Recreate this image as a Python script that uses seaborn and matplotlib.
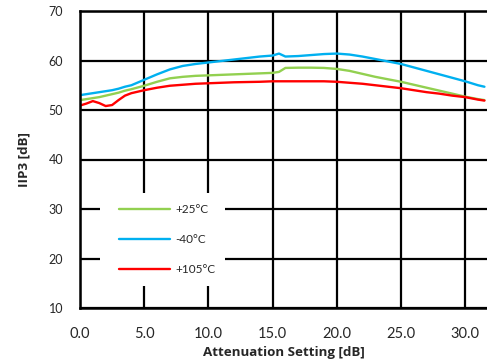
import matplotlib
matplotlib.use("Agg")
import matplotlib.pyplot as plt
from matplotlib.patches import Rectangle
import seaborn as sns
import pandas as pd

# Attenuation setting (dB) and IIP3 (dB) per temperature
atten = [0, 0.5, 1, 1.5, 2, 2.5, 3, 3.5, 4, 5, 6, 7, 8, 9, 10, 11, 12, 13, 14,
         15, 15.5, 16, 17, 18, 19, 20, 21, 22, 23, 24, 25, 26, 27, 28, 29, 30, 31, 31.5]
iip3_m40 = [53.0, 53.2, 53.4, 53.6, 53.8, 54.0, 54.3, 54.7, 55.0, 56.1, 57.2, 58.2, 58.9,
            59.3, 59.6, 59.9, 60.2, 60.5, 60.8, 61.0, 61.4, 60.8, 60.9, 61.1, 61.3, 61.4,
            61.2, 60.8, 60.3, 59.8, 59.3, 58.6, 57.9, 57.2, 56.5, 55.8, 55.0, 54.7]
iip3_p25 = [52.0, 52.2, 52.4, 52.6, 52.9, 53.2, 53.5, 53.9, 54.2, 54.9, 55.7, 56.4, 56.7,
            56.9, 57.0, 57.1, 57.2, 57.3, 57.4, 57.5, 57.7, 58.5, 58.55, 58.55, 58.5, 58.3,
            57.9, 57.3, 56.7, 56.2, 55.7, 55.1, 54.5, 53.9, 53.3, 52.7, 52.2, 52.0]
iip3_p105 = [50.9, 51.3, 51.8, 51.4, 50.8, 51.0, 52.0, 52.9, 53.4, 54.0, 54.5, 54.9, 55.1,
             55.3, 55.4, 55.5, 55.6, 55.65, 55.7, 55.8, 55.8, 55.8, 55.8, 55.8, 55.8, 55.7,
             55.5, 55.3, 55.0, 54.7, 54.4, 54.0, 53.6, 53.3, 52.9, 52.6, 52.1, 51.9]

labels = ["+25°C", "-40°C", "+105°C"]
colors = ["#92D050", "#00B0F0", "#FF0000"]

df = pd.concat([
    pd.DataFrame({"atten": atten, "iip3": iip3_p25, "temp": labels[0]}),
    pd.DataFrame({"atten": atten, "iip3": iip3_m40, "temp": labels[1]}),
    pd.DataFrame({"atten": atten, "iip3": iip3_p105, "temp": labels[2]}),
])

sns.set_style("white")
plt.rcParams["font.family"] = ["Lato", "DejaVu Sans"]

W, H = 487, 362
fig = plt.figure(figsize=(W / 100, H / 100), dpi=100)
ax = fig.add_axes([80 / W, (H - 308) / H, (W - 80) / W, 297 / H])

sns.lineplot(data=df, x="atten", y="iip3", hue="temp", hue_order=labels,
             palette=colors, linewidth=1.7, ax=ax, legend=True)

ax.set_xlim(0, 31.7)
ax.set_ylim(10, 70)
ax.set_xticks([0, 5, 10, 15, 20, 25, 30])
ax.set_xticklabels([f"{v:.1f}" for v in [0, 5, 10, 15, 20, 25, 30]], fontsize=10.5)
ax.set_yticks(range(10, 71, 10))
ax.set_yticklabels([str(v) for v in range(10, 71, 10)], fontsize=9)
ax.tick_params(axis="x", length=0, pad=14)
ax.tick_params(axis="y", length=0, pad=12)
ax.grid(True, color="black", linewidth=1.6)
ax.set_axisbelow(True)

for side in ["left", "bottom", "top"]:
    ax.spines[side].set_color("black")
    ax.spines[side].set_linewidth(1.8)
ax.spines["right"].set_visible(False)

label_font = {"family": ["Open Sans", "DejaVu Sans"], "size": 9.6, "weight": "bold"}
ax.set_xlabel("Attenuation Setting [dB]", fontdict=label_font, labelpad=3)
ax.set_ylabel("IIP3 [dB]", fontdict=label_font, labelpad=13)

# white panel behind the legend entries
ax.add_patch(Rectangle((0.049, 0.074), 0.307, 0.313, transform=ax.transAxes,
                       facecolor="white", edgecolor="none", zorder=1.5))

leg = ax.legend(loc="upper left", bbox_to_anchor=(0.096, 0.350), borderaxespad=0,
                frameon=False, fontsize=8.5, handlelength=4.3, handletextpad=0.5,
                labelspacing=1.6, borderpad=0)
leg.set_zorder(5)

fig.savefig("out.png", dpi=100)
